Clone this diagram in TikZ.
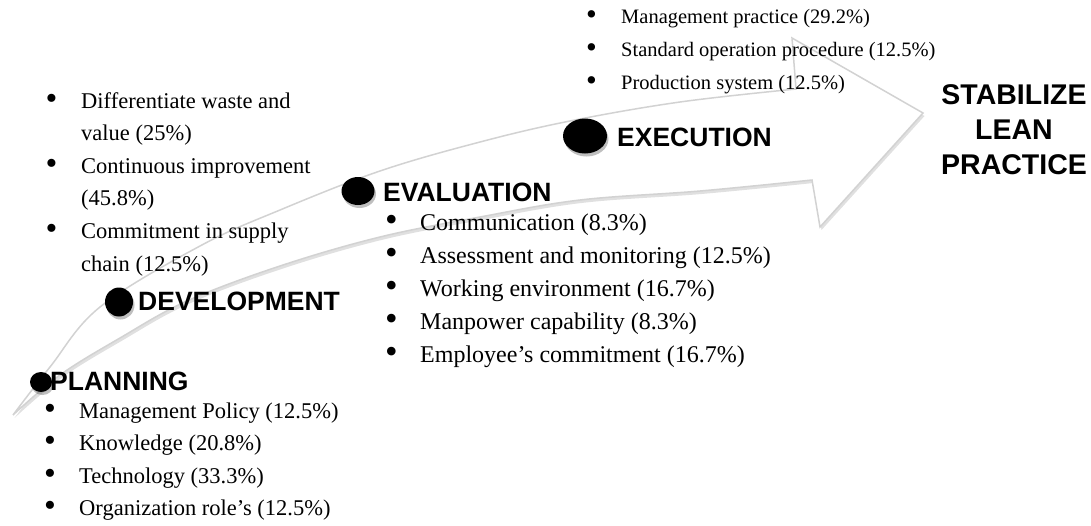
\documentclass[tikz,border=0pt]{standalone}
\usepackage{fontspec}
\usepackage{graphicx}
\setmainfont{Liberation Serif}
\newfontfamily\headfont{Liberation Sans}
\usetikzlibrary{shadows,shapes.geometric}
\definecolor{arrowgray}{HTML}{D2D2D2}
\tikzset{
  itm/.style={anchor=base west, inner sep=0pt, font=\fontsize{22.5}{27}\selectfont},
  itmev/.style={itm, font=\fontsize{24}{28}\selectfont},
  itmex/.style={itm, font=\fontsize{20.5}{25}\selectfont},
  head/.style={anchor=base west, inner sep=0pt, font=\headfont\bfseries\fontsize{26.5}{30}\selectfont},
  final/.style={anchor=base, inner sep=0pt, font=\headfont\bfseries\fontsize{28.5}{32}\selectfont},
  blob/.style={ellipse, fill=black, inner sep=0pt,
    drop shadow={shadow xshift=1.5pt, shadow yshift=-3pt, opacity=0.25, fill=black}},
  bigarrow/.style={draw=arrowgray, line width=1.5pt, fill=white, line join=miter,
    drop shadow={shadow xshift=1.5pt, shadow yshift=-3pt, opacity=0.12, fill=black}}
}
\newcommand\bdot{\smash{\raisebox{-0.12ex}{\scalebox{1.5}{\textbullet}}}}
\newcommand\bline[6][itm]{\node[#1] (#2) at (#3,#4) {\makebox[#5pt][l]{\bdot}#6};}
\begin{document}
\begin{tikzpicture}[x=1pt,y=-1pt]
\useasboundingbox (0,0) rectangle (1091,525);
% curved arrow
\path[bigarrow] (13,415) -- plot[smooth, tension=0.6] coordinates {(13,415) (50,367) (100,307) (200,246) (280,210) (380,171) (480,142) (570,121) (680,102) (796,89)}
  -- (792,38) -- (923,113) -- (820,227) -- (812,180)
  -- plot[smooth, tension=0.6] coordinates {(812,180) (700,191) (580,200) (480,217) (380,237) (280,266) (187,301) (120,338) (60,375) (13,415)} -- cycle;

% stage dots and headings
\node[blob, minimum width=22pt, minimum height=20pt] (pdot) at (41,382) {};
\node[head] (plan) at (50,390) {PLANNING};
\node[blob, minimum width=28pt, minimum height=29pt] (ddot) at (119,302) {};
\node[head] (dev) at (138,310) {DEVELOPMENT};
\node[blob, minimum width=33pt, minimum height=28pt] (evdot) at (358,191) {};
\node[head] (eval) at (383,201) {EVALUATION};
\node[blob, minimum width=44pt, minimum height=35pt] (exdot) at (585,136) {};
\node[head] (exec) at (617,146) {EXECUTION};

% goal
\node[final] (g1) at (1014,104) {STABILIZE};
\node[final] (g2) at (1014,139) {LEAN};
\node[final] (g3) at (1014,174) {PRACTICE};

% planning list
\bline{p1}{44}{418}{35}{Management Policy (12.5\%)}
\bline{p2}{44}{450.5}{35}{Knowledge (20.8\%)}
\bline{p3}{44}{483}{35}{Technology (33.3\%)}
\bline{p4}{44}{515.5}{35}{Organization role’s (12.5\%)}

% development list
\bline{d1}{45.5}{108}{35.5}{Differentiate waste and}
\node[itm] (d1b) at (81,140.6) {value (25\%)};
\bline{d2}{45.5}{173.2}{35.5}{Continuous improvement}
\node[itm] (d2b) at (81,205.8) {(45.8\%)};
\bline{d3}{45.5}{238.4}{35.5}{Commitment in supply}
\node[itm] (d3b) at (81,271) {chain (12.5\%)};

% evaluation list
\bline[itmev]{e1}{385}{230}{35}{Communication (8.3\%)}
\bline[itmev]{e2}{385}{263}{35}{Assessment and monitoring (12.5\%)}
\bline[itmev]{e3}{385}{296}{35}{Working environment (16.7\%)}
\bline[itmev]{e4}{385}{329.3}{35}{Manpower capability (8.3\%)}
\bline[itmev]{e5}{385}{362.3}{35}{Employee’s commitment (16.7\%)}

% execution list
\bline[itmex]{x1}{586}{23}{35}{Management practice (29.2\%)}
\bline[itmex]{x2}{586}{56}{35}{Standard operation procedure (12.5\%)}
\bline[itmex]{x3}{586}{89}{35}{Production system (12.5\%)}
\end{tikzpicture}
\end{document}
